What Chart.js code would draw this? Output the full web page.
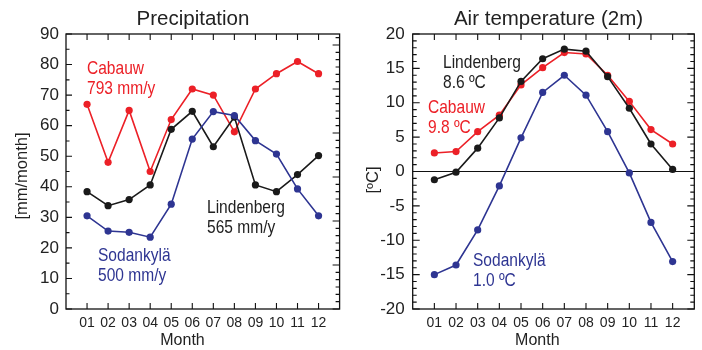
<!DOCTYPE html>
<html>
<head>
<meta charset="utf-8">
<script src="https://cdn.jsdelivr.net/npm/chart.js@4/dist/chart.umd.min.js"></script>
<style>
html,body{margin:0;padding:0;background:#fff;}
#wrap{position:relative;width:702px;height:350px;}
.cv{position:absolute;top:0;width:351px;height:350px;}
</style>
</head>
<body>
<div id="wrap">
<div class="cv" style="left:0"><canvas id="c1" width="351" height="350"></canvas></div>
<div class="cv" style="left:351px"><canvas id="c2" width="351" height="350"></canvas></div>
</div>
<script>
const months = [1,2,3,4,5,6,7,8,9,10,11,12];
const monthLabels = ['01','02','03','04','05','06','07','08','09','10','11','12'];

const precipCabauw     = [67, 48, 65, 45, 62, 72, 70, 58, 72, 77, 81, 77];
const precipLindenberg = [38.4, 33.8, 35.8, 40.6, 58.8, 64.7, 53.1, 62.8, 40.6, 38.4, 44, 50.2];
const precipSodankyla  = [30.5, 25.5, 25.1, 23.5, 34.3, 55.6, 64.6, 63.3, 55.1, 50.7, 39.3, 30.5];

const tempCabauw     = [2.7, 2.9, 5.8, 8.2, 12.6, 15.1, 17.3, 17.1, 14.0, 10.2, 6.1, 4.0];
const tempLindenberg = [-1.2, -0.1, 3.4, 7.8, 13.1, 16.4, 17.8, 17.5, 13.8, 9.2, 4.0, 0.3];
const tempSodankyla  = [-15.0, -13.6, -8.5, -2.1, 4.9, 11.5, 14.0, 11.1, 5.8, -0.2, -7.4, -13.1];

const RED = '#ec2027', BLACK = '#1a1a1a', BLUE = '#2e3592';
const REG = "'Liberation Sans', Arial, sans-serif";

function ds(label, data, color){
  return {label, data: months.map((m,i)=>({x:m, y:data[i]})), borderColor:color, backgroundColor:color,
    borderWidth:1.6, pointRadius:3.6, pointHoverRadius:3.6, pointBorderWidth:0, tension:0};
}

function makeChart(id, cfg){
  const frame = {
    id:'frame'+id,
    afterDraw(chart){
      const ctx = chart.ctx, a = chart.chartArea, xs = chart.scales.x, ys = chart.scales.y;
      ctx.save();
      ctx.strokeStyle = '#111'; ctx.lineWidth = 1.3;
      ctx.strokeRect(a.left, a.top, a.right-a.left, a.bottom-a.top);
      ctx.lineWidth = 1.1;
      ctx.beginPath();
      months.forEach(m=>{
        const px = xs.getPixelForValue(m);
        ctx.moveTo(px, a.bottom); ctx.lineTo(px, a.bottom-6);
        ctx.moveTo(px, a.top); ctx.lineTo(px, a.top+6);
      });
      cfg.leftTicks.forEach(t=>{
        const py = ys.getPixelForValue(t.v);
        ctx.moveTo(a.left, py); ctx.lineTo(a.left+t.len, py);
      });
      cfg.rightTicks.forEach(t=>{
        const py = ys.getPixelForValue(t.v);
        ctx.moveTo(a.right, py); ctx.lineTo(a.right-t.len, py);
      });
      ctx.stroke();
      // texts
      ctx.fillStyle = '#222';
      ctx.textBaseline = 'alphabetic';
      ctx.textAlign = 'center';
      ctx.font = '20.5px ' + REG;
      ctx.fillText(cfg.title, cfg.titleX, 25);
      ctx.font = '16px ' + REG;
      ctx.fillText('Month', cfg.monthX, 345);
      ctx.save();
      ctx.translate(cfg.yTitleX, cfg.yTitleY);
      ctx.rotate(-Math.PI/2);
      ctx.font = '16.5px ' + REG;
      ctx.textBaseline = 'middle';
      ctx.fillText(cfg.yTitle, 0, 0);
      ctx.restore();
      ctx.textAlign = 'left';
      ctx.font = '18.5px ' + REG;
      cfg.notes.forEach(n=>{
        ctx.fillStyle = n.c;
        [n.t1, n.t2].forEach((t,k)=>{
          ctx.save();
          ctx.translate(n.x, n.y + k*19.5);
          ctx.scale(0.84, 1);
          ctx.fillText(t, 0, 0);
          ctx.restore();
        });
      });
      ctx.restore();
    }
  };
  return new Chart(document.getElementById(id), {
    type:'line',
    data:{datasets: cfg.datasets},
    options:{
      responsive:false, animation:false,
      layout:{padding:{top:34, right:cfg.padRight, bottom:0, left:0}},
      plugins:{legend:{display:false}, title:{display:false}, tooltip:{enabled:false}},
      scales:{
        x:{type:'linear', min:0, max:13,
          afterBuildTicks(s){ s.ticks = months.map(v=>({value:v})); },
          afterFit(s){ s.height = 41; },
          grid:{display:false, drawTicks:false},
          border:{display:false},
          ticks:{padding:6, color:'#222', font:{family:REG, size:14},
            callback:(v)=>monthLabels[v-1], maxRotation:0, autoSkip:false}
        },
        y:{min:cfg.yMin, max:cfg.yMax,
          afterBuildTicks(s){ s.ticks = cfg.yTicks.map(v=>({value:v})); },
          afterFit(s){ s.width = cfg.yWidth; },
          grid:{drawTicks:false, drawOnChartArea:cfg.zeroLine, lineWidth:1,
            color:(c)=> (cfg.zeroLine && c.tick && c.tick.value===0) ? '#111' : 'rgba(0,0,0,0)'},
          border:{display:false},
          ticks:{padding:cfg.yPad, color:'#222', font:{family:REG, size:17}, autoSkip:false}
        }
      }
    },
    plugins:[frame]
  });
}

const lt1 = [], rt1 = [], lt2 = [], rt2 = [];
for(let v=0; v<=90; v+=5) lt1.push({v, len: v%10===0 ? 6 : 3.5});
for(let i=0; i*2.4<=90; i++) rt1.push({v:i*2.4, len: i%6===0 ? 7 : 4});
for(let v=-20; v<=20; v+=1){ lt2.push({v, len: v%5===0 ? 7 : 4}); rt2.push({v, len: v%5===0 ? 7 : 4}); }

makeChart('c1', {
  datasets:[ds('Sodankylä', precipSodankyla, BLUE), ds('Lindenberg', precipLindenberg, BLACK), ds('Cabauw', precipCabauw, RED)],
  yMin:0, yMax:90, yTicks:[0,10,20,30,40,50,60,70,80,90], yWidth:66, yPad:7, padRight:11.4, zeroLine:false,
  leftTicks:lt1, rightTicks:rt1,
  title:'Precipitation', titleX:193, monthX:182.5, yTitle:'[mm/month]', yTitleX:22, yTitleY:176,
  notes:[
    {t1:'Cabauw', t2:'793 mm/y', x:87, y:74, c:RED},
    {t1:'Lindenberg', t2:'565 mm/y', x:207, y:213, c:'#222'},
    {t1:'Sodankylä', t2:'500 mm/y', x:98, y:261, c:BLUE}
  ]
});

makeChart('c2', {
  datasets:[ds('Sodankylä', tempSodankyla, BLUE), ds('Lindenberg', tempLindenberg, BLACK), ds('Cabauw', tempCabauw, RED)],
  yMin:-20, yMax:20, yTicks:[-20,-15,-10,-5,0,5,10,15,20], yWidth:61.7, yPad:8, padRight:7.7, zeroLine:true,
  leftTicks:lt2, rightTicks:rt2,
  title:'Air temperature (2m)', titleX:197.5, monthX:186.3, yTitle:'[ºC]', yTitleX:22, yTitleY:180,
  notes:[
    {t1:'Lindenberg', t2:'8.6 ºC', x:92, y:68, c:'#222'},
    {t1:'Cabauw', t2:'9.8 ºC', x:77, y:113, c:RED},
    {t1:'Sodankylä', t2:'1.0 ºC', x:122, y:266, c:BLUE}
  ]
});
</script>
</body>
</html>
